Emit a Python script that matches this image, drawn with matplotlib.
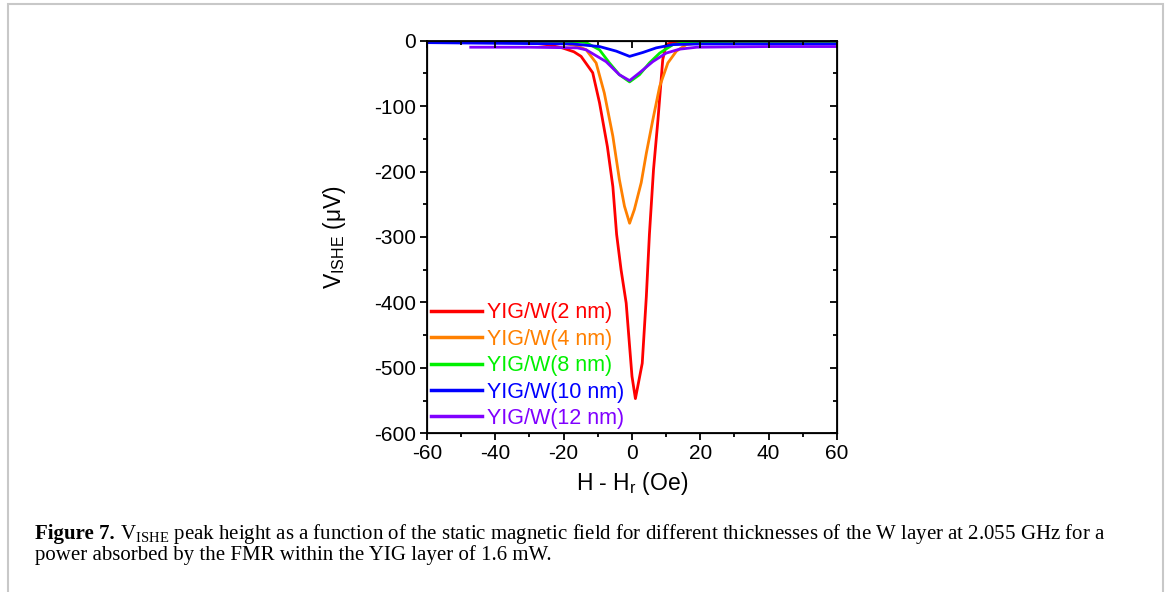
import matplotlib
matplotlib.use("Agg")
import matplotlib.pyplot as plt
from matplotlib.ticker import MultipleLocator
from matplotlib.patches import Rectangle

plt.rcParams['font.family'] = ['Liberation Sans', 'DejaVu Sans']
plt.rcParams['axes.unicode_minus'] = False

# V_ISHE traces versus H - H_r for each W thickness
labels = ["YIG/W(2 nm)", "YIG/W(4 nm)", "YIG/W(8 nm)", "YIG/W(10 nm)", "YIG/W(12 nm)"]
colors = ["#ff0000", "#ff8000", "#00f000", "#0000ff", "#8000ff"]

x_2nm = [-60, -40, -30, -25, -20.4, -17, -14.9, -11.5, -9.5, -7.2, -5.6, -4.5, -3.2,
         -1.7, -0.7, 0.0, 1.0, 3.0, 4.2, 5.1, 6.3, 7.6, 9.0, 10.0, 12, 20, 40, 60]
v_2nm = [-1, -2, -3, -6, -11, -17, -24, -49, -95, -162, -223, -296, -350,
         -401, -467, -513, -547, -493, -391, -296, -197, -121, -29, -6, -2, -2, -2, -2]

x_4nm = [-60, -30, -20, -16, -13.4, -10.5, -8.1, -5.6, -3.7, -2.2, -0.7, 0.7, 2.7,
         4.2, 6.1, 8.1, 10.5, 13, 15.9, 20, 40, 60]
v_4nm = [-2, -2, -4, -8, -14, -34, -80, -146, -212, -253, -279, -258, -217,
         -172, -121, -70, -34, -16, -6, -3, -3, -3]

x_8nm = [-60, -20, -15, -13.4, -9.5, -6.6, -3.7, -0.7, 2.2, 5.1, 8.1, 12, 16.9, 30, 60]
v_8nm = [-1, -1, -2, -3, -14, -34, -52, -63, -52, -34, -19, -6, -2, -1, -1]

x_10nm = [-60, -40, -17.4, -9.5, -4.6, -0.7, 3.2, 7.1, 12, 20, 40, 60]
v_10nm = [-3, -4, -5, -9, -16, -24, -18, -11, -6, -5, -5, -5]

x_12nm = [-47.2, -30, -16, -13.4, -7.6, -3.7, -0.7, 2.2, 6.1, 10, 13.9, 19, 40, 60]
v_12nm = [-10, -10, -11, -14, -32, -52, -61, -49, -32, -19, -13, -10, -9, -9]

xs = [x_2nm, x_4nm, x_8nm, x_10nm, x_12nm]
vs = [v_2nm, v_4nm, v_8nm, v_10nm, v_12nm]

fig = plt.figure(figsize=(11.67, 5.92), dpi=100)
ax = fig.add_axes([0.3659, 0.2681, 0.3513, 0.6632])

for x, v, c, lab in zip(xs, vs, colors, labels):
    ax.plot(x, v, color=c, lw=2.0, label=lab)

ax.set_xlim(-60, 60)
ax.set_ylim(-600, 0)
ax.xaxis.set_major_locator(MultipleLocator(20))
ax.xaxis.set_minor_locator(MultipleLocator(10))
ax.yaxis.set_major_locator(MultipleLocator(100))
ax.yaxis.set_minor_locator(MultipleLocator(50))
for s in ax.spines.values():
    s.set_linewidth(1.3)
ax.tick_params(which='major', direction='out', length=5, width=1.3, labelsize=15, pad=3)
ax.tick_params(which='minor', direction='out', length=3, width=1.3)

# mirrored inward ticks on the top and right edges
axr = ax.twinx()
axr.set_ylim(ax.get_ylim())
axr.yaxis.set_major_locator(MultipleLocator(100))
axr.yaxis.set_minor_locator(MultipleLocator(50))
axr.tick_params(which='major', direction='in', length=5, width=1.3, labelright=False)
axr.tick_params(which='minor', direction='in', length=3, width=1.3)
axt = ax.twiny()
axt.set_xlim(ax.get_xlim())
axt.xaxis.set_major_locator(MultipleLocator(20))
axt.xaxis.set_minor_locator(MultipleLocator(10))
axt.tick_params(which='major', direction='in', length=5, width=1.3, labeltop=False)
axt.tick_params(which='minor', direction='in', length=3, width=1.3)

ax.set_xlabel(r"H - H$_\mathregular{r}$ (Oe)", fontsize=16.5, labelpad=5)
ax.set_ylabel(r"V$_\mathregular{ISHE}$ (μV)", fontsize=16.5, labelpad=19)

leg = ax.legend(loc='lower left', bbox_to_anchor=(0.0, 0.0), frameon=False,
                fontsize=15.5, handlelength=2.35, handletextpad=0.25,
                labelspacing=0.25, borderpad=0.2, borderaxespad=0.0,
                labelcolor='linecolor')
for h in leg.legend_handles:
    h.set_linewidth(2.5)

# caption below the plot: bold figure tag followed by the description
cap_size = 15.0
x0 = 35 / 1167
tag = fig.text(x0, 1 - 539 / 592, "Figure 7.", family='Liberation Serif',
               weight='bold', fontsize=cap_size, ha='left', va='baseline')
renderer = fig.canvas.get_renderer()
tag_w = tag.get_window_extent(renderer).width
cap1 = (r" V$_\mathregular{ISHE}$ peak height as a function of the static "
        "magnetic field for different thicknesses of the W layer at 2.055 GHz for a")
cap2 = "power absorbed by the FMR within the YIG layer of 1.6 mW."
fig.text(x0 + tag_w / fig.bbox.width, 1 - 539 / 592, cap1, family='Liberation Serif',
         fontsize=cap_size, ha='left', va='baseline')
fig.text(x0, 1 - 560 / 592, cap2, family='Liberation Serif', fontsize=cap_size,
         ha='left', va='baseline')

# page frame
fig.add_artist(Rectangle((8 / 1167, -0.01), (1163 - 8) / 1167, 1 - 4 / 592 + 0.01,
                         transform=fig.transFigure, fill=False,
                         edgecolor='#c8c8c8', lw=1.5))

fig.savefig("out.png", dpi=100)
